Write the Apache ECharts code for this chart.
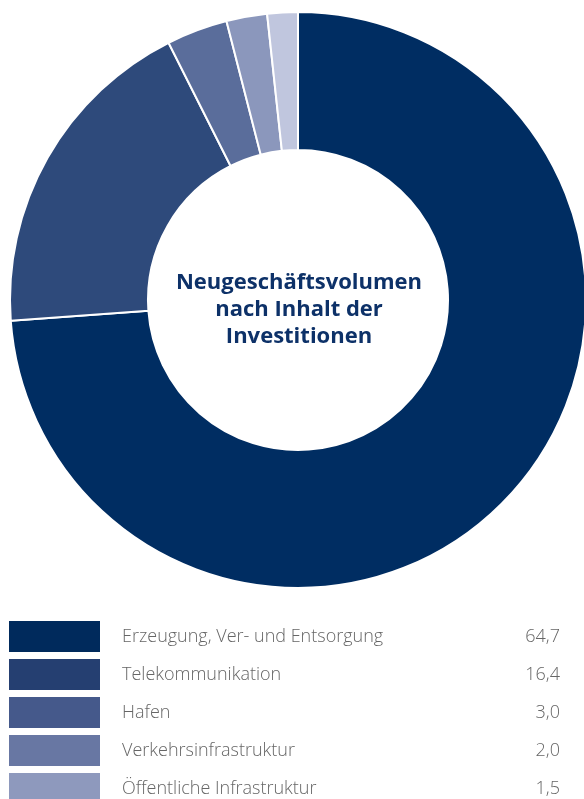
<!DOCTYPE html>
<html>
<head>
<meta charset="utf-8">
<script src="https://cdn.jsdelivr.net/npm/echarts@6/dist/echarts.min.js"></script>
<style>
  html, body { margin: 0; padding: 0; background: #fff; }
  #chart { width: 584px; height: 799px; }
</style>
</head>
<body>
<div id="chart"></div>
<script>
// data
const categories = ['Erzeugung, Ver- und Entsorgung', 'Telekommunikation', 'Hafen', 'Verkehrsinfrastruktur', 'Öffentliche Infrastruktur'];
const values = [64.7, 16.4, 3.0, 2.0, 1.5];
const sliceColors = ['#002d62', '#2e4a7b', '#5a6d9b', '#8b97bc', '#c0c6de'];
const legendColors = ['#002a5c', '#253f71', '#45598b', '#6877a3', '#8e99bd'];
const centerTitle = 'Neugeschäftsvolumen\nnach Inhalt der\nInvestitionen';

const chart = echarts.init(document.getElementById('chart'));

const fmt = v => v.toFixed(1).replace('.', ',');

// legend rows drawn as graphic elements
const legendItems = [];
categories.forEach((name, i) => {
  const y = 621 + i * 38;
  legendItems.push({
    type: 'rect',
    shape: { x: 9, y: y, width: 91, height: 31 },
    style: { fill: legendColors[i] }
  });
  legendItems.push({
    type: 'text',
    x: 122, y: y + 16,
    style: {
      text: name, fill: '#666', font: '300 18px "Open Sans"',
      textVerticalAlign: 'middle'
    }
  });
  legendItems.push({
    type: 'text',
    x: 560, y: y + 16,
    style: {
      text: fmt(values[i]), fill: '#666', font: '300 18px "Open Sans"',
      textAlign: 'right', textVerticalAlign: 'middle'
    }
  });
});

chart.setOption({
  animation: false,
  series: [{
    type: 'pie',
    center: [298, 300],
    radius: [150, 288],
    startAngle: 90,
    clockwise: true,
    label: { show: false },
    labelLine: { show: false },
    itemStyle: { borderColor: '#fff', borderWidth: 2 },
    emphasis: { disabled: true },
    data: categories.map((name, i) => ({
      name: name, value: values[i], itemStyle: { color: sliceColors[i] }
    }))
  }],
  graphic: [{
    type: 'text',
    x: 299, y: 310,
    style: {
      text: centerTitle, fill: '#0d3168',
      font: 'bold 22px "Open Sans"', lineHeight: 27,
      textAlign: 'center', textVerticalAlign: 'middle'
    }
  }].concat(legendItems)
});
</script>
</body>
</html>
